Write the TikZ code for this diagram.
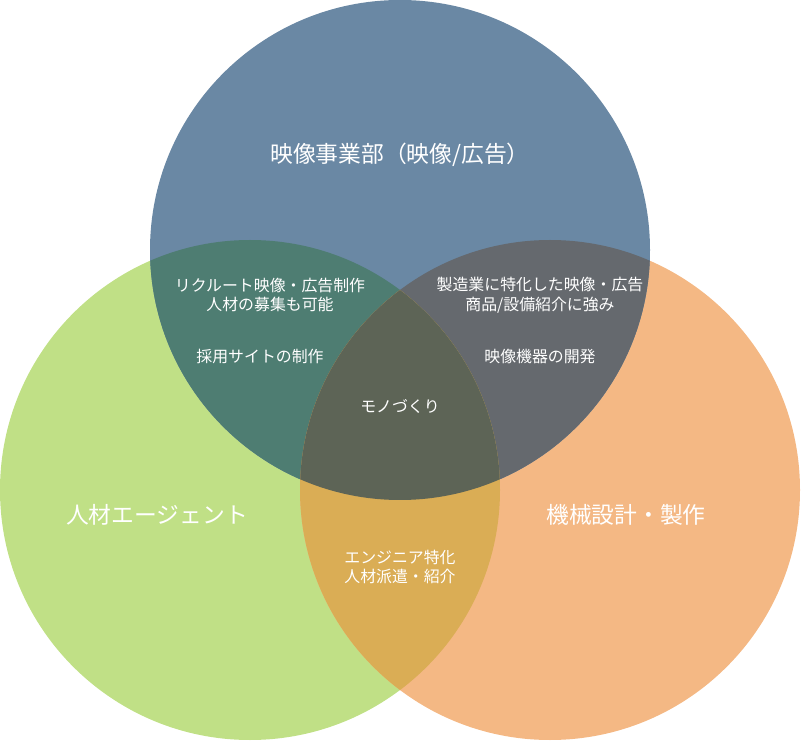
\documentclass[tikz,border=0pt]{standalone}
\usepackage{fontspec}
\newfontfamily\jpfont{Noto Sans CJK JP}
\definecolor{topc}{HTML}{6A88A4}
\definecolor{leftc}{HTML}{C0E086}
\definecolor{rightc}{HTML}{F4B884}
\definecolor{tlc}{HTML}{4E7D72}
\definecolor{trc}{HTML}{65696E}
\definecolor{lrc}{HTML}{DAAD55}
\definecolor{midc}{HTML}{5D6456}
\begin{document}
\begin{tikzpicture}[x=0.025cm,y=-0.025cm,
  big/.style={text=white,font=\jpfont\fontsize{16.2}{19}\selectfont,align=center,inner sep=0pt},
  lbl/.style={text=white,font=\jpfont\fontsize{11.3}{14.2}\selectfont,align=center,inner sep=0pt}]
\useasboundingbox (0,0) rectangle (804,741);
\coordinate (T) at (400,250);
\coordinate (L) at (250,490);
\coordinate (R) at (550,490);
% circles
\fill[leftc] (L) circle[radius=250];
\fill[rightc] (R) circle[radius=250];
\fill[topc] (T) circle[radius=250];
% overlaps
\begin{scope}
  \clip (T) circle[radius=250];
  \fill[tlc] (L) circle[radius=250];
  \fill[trc] (R) circle[radius=250];
\end{scope}
\begin{scope}
  \clip (L) circle[radius=250];
  \fill[lrc] (R) circle[radius=250];
\end{scope}
\begin{scope}
  \clip (T) circle[radius=250];
  \clip (L) circle[radius=250];
  \fill[midc] (R) circle[radius=250];
\end{scope}
% labels
\node[big] (video) at (400,155) {映像事業部（映像/広告）};
\node[big] (agent) at (157,515) {人材エージェント};
\node[big] (mech) at (626,515) {機械設計・製作};
\node[lbl] (recruit) at (270,295) {リクルート映像・広告制作\\人材の募集も可能};
\node[lbl] (site) at (260,357) {採用サイトの制作};
\node[lbl] (maker) at (540,295) {製造業に特化した映像・広告\\商品/設備紹介に強み};
\node[lbl] (device) at (540,357) {映像機器の開発};
\node[lbl] (mono) at (400,406) {モノづくり};
\node[lbl] (eng) at (400,567) {エンジニア特化\\人材派遣・紹介};
\end{tikzpicture}
\end{document}
